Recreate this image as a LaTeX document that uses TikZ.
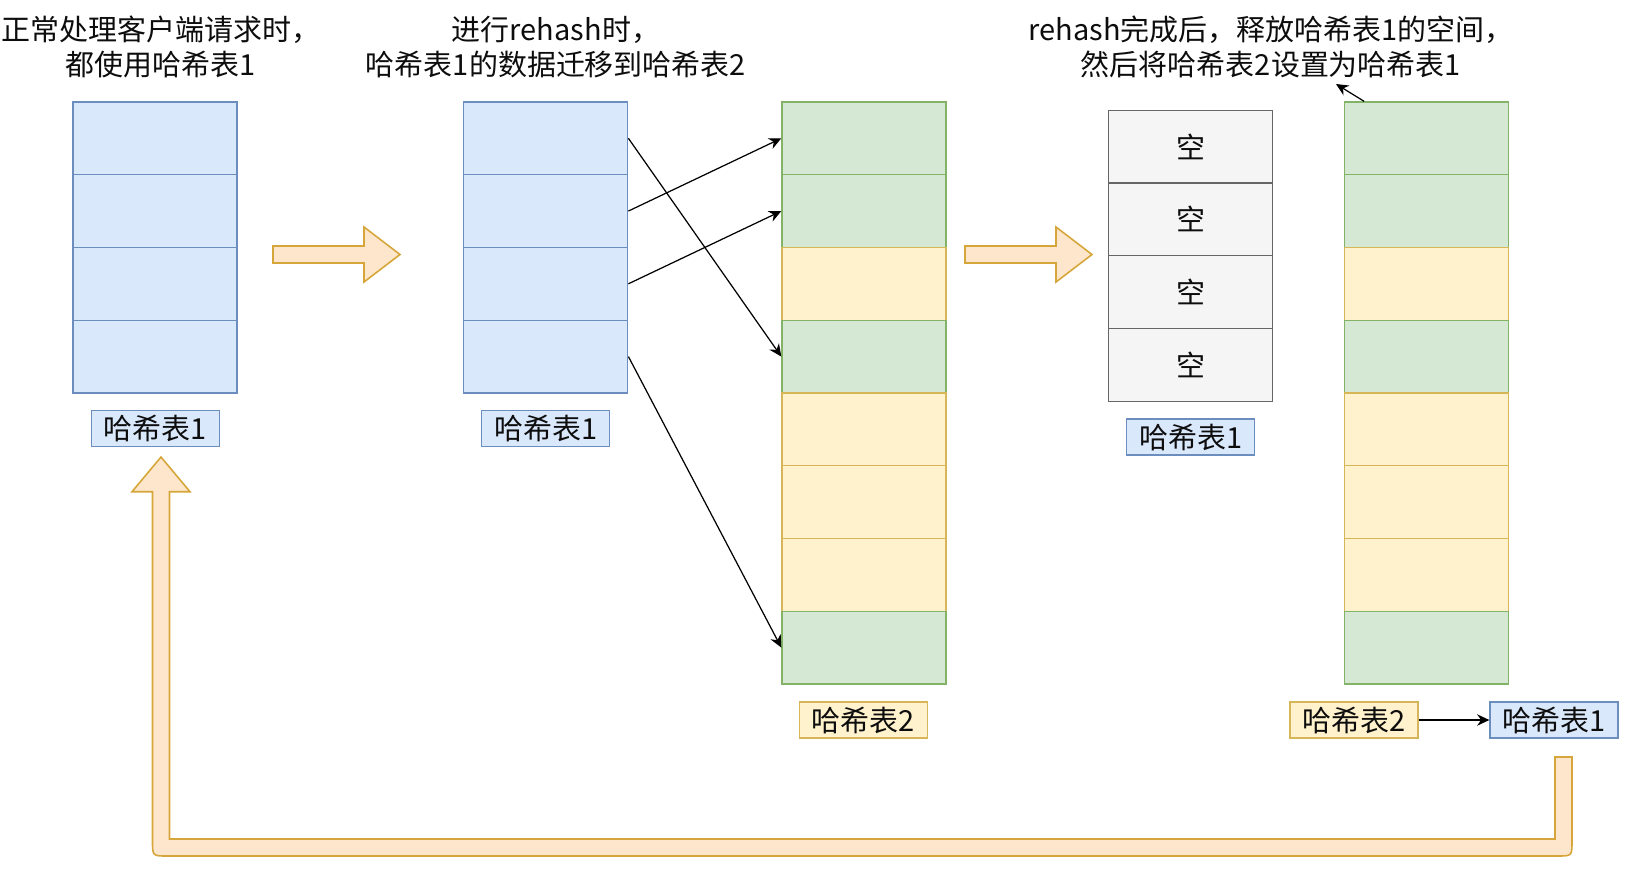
\documentclass[tikz,border=0pt]{standalone}
\usepackage{fontspec}
\setmainfont{Noto Sans CJK SC}
\usepackage{tikz}
\usetikzlibrary{arrows.meta,calc,positioning}

\definecolor{bluefill}{HTML}{DAE8FC}
\definecolor{blueline}{HTML}{6C8EBF}
\definecolor{greenfill}{HTML}{D5E8D4}
\definecolor{greenline}{HTML}{82B366}
\definecolor{yellowfill}{HTML}{FFF2CC}
\definecolor{yellowline}{HTML}{D6B656}
\definecolor{grayfill}{HTML}{F5F5F5}
\definecolor{grayline}{HTML}{666666}
\definecolor{orangefill}{HTML}{FDE6CC}
\definecolor{orangeline}{HTML}{D6A63A}

\begin{document}
\begin{tikzpicture}[x=0.02cm,y=-0.02cm,>={Stealth[length=7pt,width=6.5pt]},
  every node/.style={font=\fontsize{16.5}{20}\selectfont,text=black!95},
  cell/.style={draw,line width=0.7pt,minimum width=3.28cm,minimum height=1.455cm,inner sep=0pt},
  bluecell/.style={cell,fill=bluefill,draw=blueline},
  greencell/.style={cell,fill=greenfill,draw=greenline},
  yellowcell/.style={cell,fill=yellowfill,draw=yellowline},
  graycell/.style={cell,fill=grayfill,draw=grayline},
  tag/.style={draw,line width=0.7pt,minimum width=2.56cm,minimum height=0.72cm,inner sep=0pt},
  bigarrow/.style={fill=orangefill,draw=orangeline,line width=0.9pt,line join=miter}]
\useasboundingbox (0,0) rectangle (1630,870);

% titles
\node[align=center] (t1) at (161,47) {正常处理客户端请求时，\\都使用哈希表1};
\node[align=center] (t2) at (556,47) {进行rehash时，\\哈希表1的数据迁移到哈希表2};
\node[align=center] (t3) at (1271,47) {rehash完成后，释放哈希表1的空间，\\然后将哈希表2设置为哈希表1};

% hash table 1 (before and during rehash)
\foreach \i in {1,...,4}{
  \node[bluecell] (a\i) at (155,{138.3+(\i-1)*72.75}) {};
  \node[bluecell] (b\i) at (545.8,{138.3+(\i-1)*72.75}) {};
  \node[graycell] (d\i) at (1190.7,{146.6+(\i-1)*72.75}) {空};
}
% hash table 2
\foreach \i/\c in {1/green,2/green,3/yellow,4/green,5/yellow,6/yellow,7/yellow,8/green}{
  \node[\c cell] (c\i) at (863.9,{138.3+(\i-1)*72.75}) {};
  \node[\c cell] (e\i) at (1426.7,{138.3+(\i-1)*72.75}) {};
}

% labels
\node[tag,fill=bluefill,draw=blueline] (la) at (155.4,428.8) {哈希表1};
\node[tag,fill=bluefill,draw=blueline] (lb) at (545.8,428.8) {哈希表1};
\node[tag,fill=yellowfill,draw=yellowline] (lc) at (863.3,720) {哈希表2};
\node[tag,fill=bluefill,draw=blueline] (ld) at (1190.7,437) {哈希表1};
\node[tag,fill=yellowfill,draw=yellowline] (le) at (1354,720) {哈希表2};
\node[tag,fill=bluefill,draw=blueline] (lf) at (1554,720) {哈希表1};

% migration
\draw[->,line width=0.7pt] (b1.east) -- (c4.west);
\draw[->,line width=0.7pt] (b2.east) -- (c1.west);
\draw[->,line width=0.7pt] (b3.east) -- (c2.west);
\draw[->,line width=0.7pt] (b4.east) -- (c8.west);
\draw[->,line width=0.7pt] (le.east) -- (lf.west);
\coordinate (p) at (1336,84);
\draw[->,line width=0.7pt] ([xshift=0.4cm]e1.north west) -- (p);

% block arrows
\foreach \x in {273,965}{
  \draw[bigarrow] (\x,246) -- ++(91,0) -- ++(0,-19) -- ++(36,27.5)
    -- ++(-36,27.5) -- ++(0,-19) -- ++(-91,0) -- cycle;
}
\draw[bigarrow] (1555,757) -- (1572,757) -- (1572,841) .. controls (1572,856) .. (1557,856)
  -- (167.5,856) .. controls (152.5,856) .. (152.5,841) -- (152.5,491.7) -- (132,491.7)
  -- (161,457) -- (190,491.7) -- (169.5,491.7) -- (169.5,839) -- (1555,839) -- cycle;
\end{tikzpicture}
\end{document}
